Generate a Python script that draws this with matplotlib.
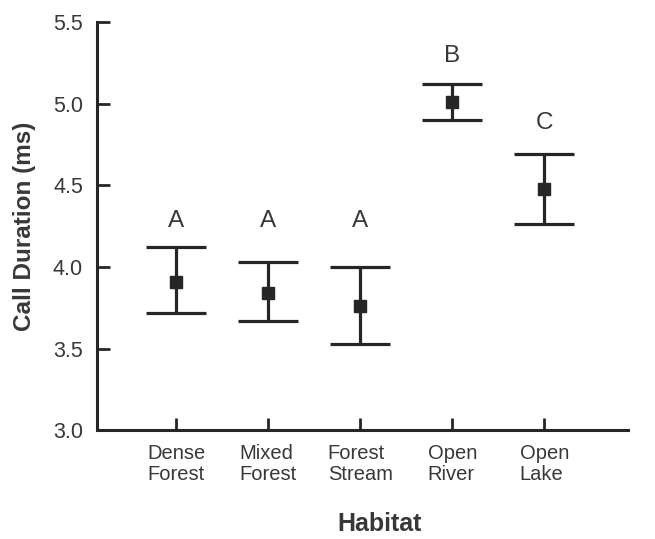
import numpy as np
import matplotlib.pyplot as plt

plt.rcParams['font.family'] = ['Liberation Sans', 'DejaVu Sans']

# data
habitats = ['Dense\nForest', 'Mixed\nForest', 'Forest\nStream', 'Open\nRiver', 'Open\nLake']
means    = [3.91, 3.84, 3.76, 5.01, 4.48]
upper    = [4.12, 4.03, 4.00, 5.12, 4.69]
lower    = [3.72, 3.67, 3.53, 4.90, 4.26]
letters  = ['A', 'A', 'A', 'B', 'C']
letter_y = [4.28, 4.28, 4.28, 5.29, 4.88]

ink  = '#262626'
text = '#383838'

x     = np.arange(1, len(habitats) + 1)
means = np.array(means)
yerr  = np.vstack([means - np.array(lower), np.array(upper) - means])

fig = plt.figure(figsize=(6.55, 5.39), dpi=100)
ax  = fig.add_axes([0.148, 0.202, 0.811, 0.757])

ax.errorbar(x, means, yerr=yerr, fmt='s', color=ink, ecolor=ink,
            elinewidth=2.3, capsize=21.5, capthick=2.3, markersize=8.5)

# significance letters
for xi, lab, ly in zip(x, letters, letter_y):
    ax.text(xi, ly, lab, ha='center', va='center', fontsize=17.5, color=text)

ax.set_xlim(0.14, 5.91)
ax.set_ylim(3.0, 5.5)
ax.set_yticks([3.0, 3.5, 4.0, 4.5, 5.0, 5.5])
ax.set_yticklabels(['3.0', '3.5', '4.0', '4.5', '5.0', '5.5'], fontsize=15.5)
ax.set_xticks(x)
ax.set_xticklabels(habitats, multialignment='left', fontsize=14.5,
                   linespacing=1.15)

ax.spines['top'].set_visible(False)
ax.spines['right'].set_visible(False)
for s in ('left', 'bottom'):
    ax.spines[s].set_linewidth(2.2)
    ax.spines[s].set_color(ink)

ax.tick_params(direction='in', length=9, width=2, color=ink, labelcolor=text)
ax.tick_params(axis='x', pad=10)
ax.tick_params(axis='y', pad=10)

ax.set_ylabel('Call Duration (ms)', fontsize=17.5, fontweight='bold',
              color=text)
ax.yaxis.set_label_coords(-0.114, 0.5)
fig.text(380 / 655, 1 - 524 / 539, 'Habitat', ha='center', va='center',
         fontsize=18, fontweight='bold', color=text)

fig.savefig('out.png', dpi=100)
